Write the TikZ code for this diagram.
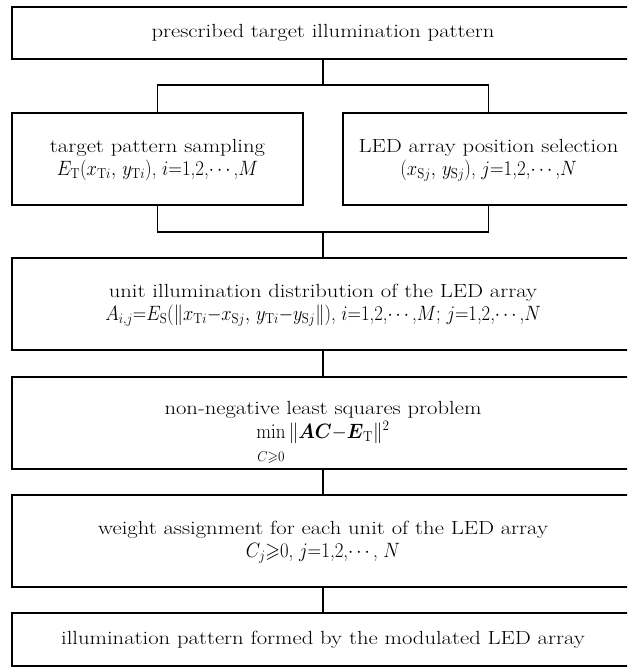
\documentclass[tikz,border=0pt]{standalone}
\usepackage{amsmath,amssymb}
\usepackage{graphicx}
\newcommand{\tl}[1]{\scalebox{1.19}[1]{#1}}
\newcommand{\ml}[2][0.9]{{\fontsize{21}{23}\selectfont\scalebox{#1}[1]{#2}}}
\newcommand{\rows}[1]{\begin{tabular}{@{}c@{}}#1\end{tabular}}
\tikzset{
  box/.style={draw, line width=2.2pt, inner sep=0pt, outer sep=0pt,
    font=\fontsize{19}{23}\selectfont},
  link/.style={line width=1.2pt},
}
\begin{document}
\begin{tikzpicture}[x=1pt,y=-1pt]
\useasboundingbox (0,0) rectangle (627,667);
\clip (0,0) rectangle (627,667);
\node[box, minimum width=622pt, minimum height=52pt] (b1) at (323,33)
  {\tl{prescribed target illumination pattern}};
\node[box, minimum width=291pt, minimum height=92pt] (b2) at (157.5,159)
  {\rows{\tl{target pattern sampling}\\ \ml{$E_{\mathrm T}(x_{\mathrm{T}i},\, y_{\mathrm{T}i})$, $i$=1,2,$\cdots$,$M$}}};
\node[box, minimum width=291pt, minimum height=92pt] (b3) at (488.5,159)
  {\rows{\tl{LED array position selection}\\ \ml{$(x_{\mathrm{S}j},\, y_{\mathrm{S}j})$, $j$=1,2,$\cdots$,$N$}}};
\node[box, minimum width=622pt, minimum height=92pt] (b4) at (323,304)
  {\rows{\tl{unit illumination distribution of the LED array}\\ \ml[0.89]{$A_{i,j}$=$E_{\mathrm S}(\|x_{\mathrm{T}i}{-}x_{\mathrm{S}j},\, y_{\mathrm{T}i}{-}y_{\mathrm{S}j}\|)$, $i$=1,2,$\cdots$,$M$; $j$=1,2,$\cdots$,$N$}}};
\node[box, minimum width=622pt, minimum height=92pt] (b5) at (323,423)
  {\rows{\rule{0pt}{34pt}\tl{non-negative least squares problem}\\ \ml[0.92]{$\min\limits_{\raisebox{-11pt}[0pt][0pt]{$\scriptstyle C\geqslant 0$}}\|\boldsymbol{AC}{-}\boldsymbol{E}_{\mathrm T}\|^2$}}};
\node[box, minimum width=622pt, minimum height=92pt] (b6) at (323,541)
  {\rows{\tl{weight assignment for each unit of the LED array}\\ \ml{$C_j{\geqslant}0$, $j$=1,2,$\cdots$, $N$}}};
\node[box, minimum width=622pt, minimum height=53pt] (b7) at (323,639.5)
  {\tl{illumination pattern formed by the modulated LED array}};
\coordinate (s1) at (323,85);
\coordinate (m1) at (323,232);
\draw[link] (b1.south) -- (s1);
\draw[link] (b2.north) -- (b2.north |- s1) -- (b3.north |- s1) -- (b3.north);
\draw[link] (b2.south) -- (b2.south |- m1) -- (b3.south |- m1) -- (b3.south);
\draw[link] (m1) -- (b4.north);
\draw[link] (b4.south) -- (b5.north);
\draw[link] (b5.south) -- (b6.north);
\draw[link] (b6.south) -- (b7.north);
\end{tikzpicture}
\end{document}
